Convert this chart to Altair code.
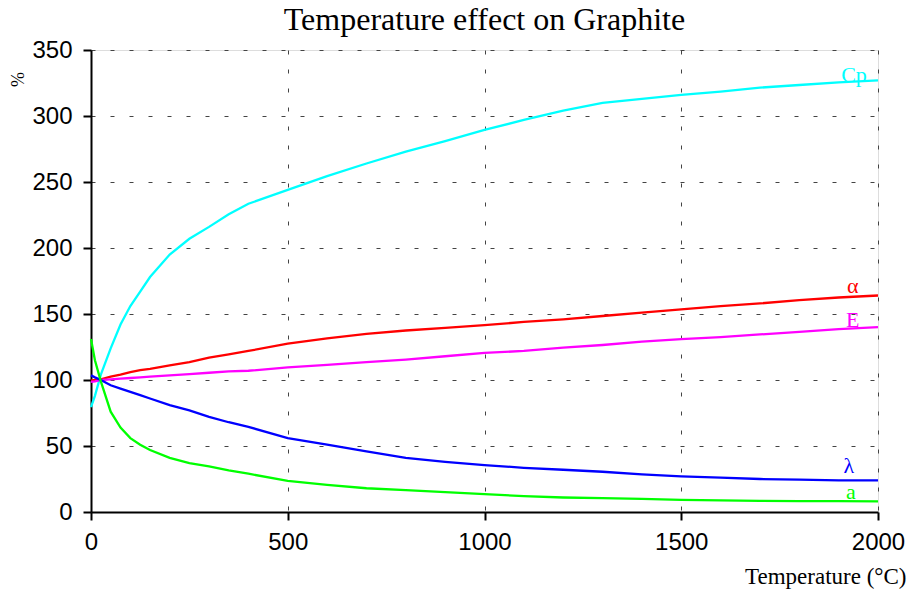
import altair as alt
import pandas as pd

# Temperature (°C)
T = [0, 10, 25, 50, 75, 100, 125, 150, 200, 250, 300, 350, 400, 500, 600, 700,
     800, 900, 1000, 1100, 1200, 1300, 1400, 1500, 1600, 1700, 1800, 1900, 2000]

CP = [79.5, 88, 104, 124, 142, 156, 167, 178, 195, 207, 216, 225.5, 233.5, 244, 254.5, 264,
      273, 281, 289.5, 297, 304, 310, 313, 316, 318.5, 321.5, 323.5, 325.5, 327]
ALPHA = [99.5, 100, 100.5, 102.5, 104, 106, 107.5, 108.5, 111, 113.5, 117, 119.5, 122, 127.5, 131.5, 135,
         137.5, 139.5, 141.5, 144, 146, 148.5, 151, 153.5, 156, 158, 160.5, 162.5, 164]
E = [98.5, 99, 100, 100.5, 101, 101.5, 102, 102.5, 103.5, 104.5, 105.5, 106.5, 107, 109.5, 111.5, 113.5,
     115.5, 118, 120.5, 122, 124.5, 126.5, 129, 131, 132.5, 134.5, 136.5, 138.5, 140]
LAMBDA = [103.5, 102, 100, 96, 93.5, 91, 88.5, 86, 81, 77, 72, 68, 64.5, 56, 51, 46,
          41, 38, 35.5, 33.5, 32, 30.5, 28.5, 27, 26, 25, 24.5, 24, 24]
A = [131, 115, 99, 76, 64, 56, 51, 47, 41, 37, 34.5, 31.5, 29, 23.5, 20.5, 18,
     16.5, 15, 13.5, 12, 11, 10.5, 10, 9.2, 8.8, 8.4, 8.3, 8.2, 8]

SERIES = ["Cp", "α", "E", "λ", "a"]
COLORS = ["#00FFFF", "#FF0000", "#FF00FF", "#0000FF", "#00FF00"]
VALUES = [CP, ALPHA, E, LAMBDA, A]

# label anchor positions (data units)
LABEL_T = [1939, 1936, 1936, 1926, 1931]
LABEL_V = [326, 165.7, 140.4, 29.3, 9.6]

rows = []
for s, vals in zip(SERIES, VALUES):
    for t, v in zip(T, vals):
        rows.append({"T": t, "v": v, "s": s})
df = pd.DataFrame(rows)
lab = pd.DataFrame({"T": LABEL_T, "v": LABEL_V, "s": SERIES})

xscale = alt.Scale(domain=[0, 2000], nice=False, zero=False)
yscale = alt.Scale(domain=[0, 350], nice=False)
cscale = alt.Scale(domain=SERIES, range=COLORS)

xaxis = alt.Axis(
    values=[0, 500, 1000, 1500, 2000], format="d", labelFlush=False,
    title="Temperature (°C)", titleFont="Liberation Serif", titleFontSize=23,
    titleFontWeight="normal", titleColor="black", titleAlign="right",
    titleBaseline="alphabetic", titleX=815, titleY=71,
    labelFont="Liberation Sans", labelFontSize=24, labelColor="black", labelPadding=10,
    tickSize=8, tickWidth=2, tickColor="black",
    domainColor="black", domainWidth=2,
    grid=True, gridColor="#444444", gridDash=[4, 15], gridWidth=1,
)
yaxis = alt.Axis(
    values=[0, 50, 100, 150, 200, 250, 300, 350], format="d", labelFlush=False,
    title="%", titleFont="Liberation Serif", titleFontSize=18,
    titleFontWeight="normal", titleColor="black", titleAngle=270,
    titleAlign="center", titleBaseline="middle", titleX=-73, titleY=29,
    labelFont="Liberation Sans", labelFontSize=24, labelColor="black", labelPadding=11,
    tickSize=8, tickWidth=2, tickColor="black",
    domainColor="black", domainWidth=2,
    grid=True, gridColor="#444444", gridDash=[4, 15], gridWidth=1,
)

lines = alt.Chart(df).mark_line(strokeWidth=2.3).encode(
    x=alt.X("T:Q", scale=xscale, axis=xaxis),
    y=alt.Y("v:Q", scale=yscale, axis=yaxis),
    color=alt.Color("s:N", scale=cscale, legend=None),
)

labels = alt.Chart(lab).mark_text(
    font="Liberation Serif", fontSize=22, align="center", baseline="alphabetic"
).encode(
    x=alt.X("T:Q", scale=xscale),
    y=alt.Y("v:Q", scale=yscale),
    text="s:N",
    color=alt.Color("s:N", scale=cscale, legend=None),
)

chart = alt.layer(lines, labels).properties(
    width=787, height=462,
    padding={"left": 91, "top": 50, "right": 30, "bottom": 83},
    autosize=alt.AutoSizeParams(type="none"),
    title=alt.TitleParams(
        "Temperature effect on Graphite", font="Liberation Serif", fontSize=32,
        fontWeight="normal", color="black", anchor="middle", offset=1,
    ),
).configure_view(stroke=None).configure(background="white")

chart.save("out.html", embed_options={"renderer": "svg", "actions": False})
